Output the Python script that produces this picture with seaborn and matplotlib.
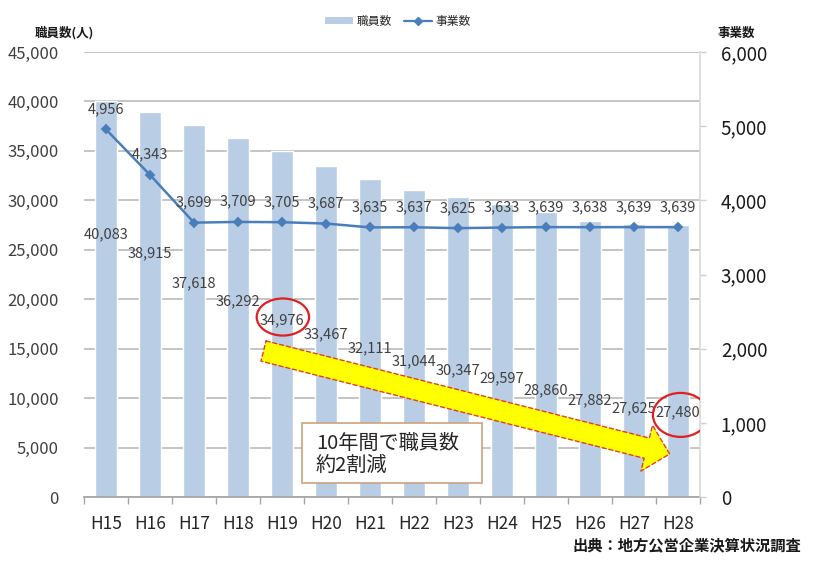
import numpy as np
import pandas as pd
import matplotlib
matplotlib.use("Agg")
import matplotlib.pyplot as plt
import seaborn as sns
from matplotlib.patches import Patch, Ellipse, Rectangle
from matplotlib.lines import Line2D
from matplotlib.ticker import FuncFormatter, FixedLocator

# ---- data ----
years = ["H15", "H16", "H17", "H18", "H19", "H20", "H21",
         "H22", "H23", "H24", "H25", "H26", "H27", "H28"]
employees = [40083, 38915, 37618, 36292, 34976, 33467, 32111,
             31044, 30347, 29597, 28860, 27882, 27625, 27480]
businesses = [4956, 4343, 3699, 3709, 3705, 3687, 3635,
              3637, 3625, 3633, 3639, 3638, 3639, 3639]
emp_label = "職員数"
biz_label = "事業数"
left_title = "職員数(人)"
right_title = "事業数"
note_lines = ["10年間で職員数", "約2割減"]
source = "出典：地方公営企業決算状況調査"

# label placement (left-axis units) for employee value labels
emp_label_y = [26600, 24600, 21600, 19800, 17900, 16500, 15000,
               13700, 12800, 12000, 10800, 9800, 9000, 8600]

# ---- style ----
sns.set_theme(style="white")
plt.rcParams["font.family"] = ["Noto Sans CJK JP", "DejaVu Sans"]
bar_color = "#b9cde5"
line_color = "#4a7ebb"
label_color = "#404040"

W, H = 820, 561
fig = plt.figure(figsize=(W / 100, H / 100), dpi=100)
ax = fig.add_axes([84 / W, 1 - 497 / H, (700 - 84) / W, (497 - 52) / H])
ax2 = ax.twinx()

df = pd.DataFrame({"year": years, "emp": employees, "biz": businesses})

sns.barplot(data=df, x="year", y="emp", ax=ax, color=bar_color,
            saturation=1, width=0.48, zorder=2)
sns.pointplot(data=df, x="year", y="biz", ax=ax2, color=line_color,
              markers="D", markersize=4.5, linewidth=1.8, zorder=3)

n = len(years)
ax.set_xlim(-0.5, n - 0.5)
ax2.set_xlim(-0.5, n - 0.5)
ax.set_ylim(0, 45000)
ax2.set_ylim(0, 6000)
ax.set_yticks(np.arange(0, 45001, 5000))
ax2.set_yticks(np.arange(0, 6001, 1000))
fmt = FuncFormatter(lambda v, p: f"{int(v):,}")
ax.yaxis.set_major_formatter(fmt)
ax2.yaxis.set_major_formatter(fmt)
ax.set_xlabel("")
ax.set_ylabel("")
ax2.set_xlabel("")
ax2.set_ylabel("")

# grid
ax.set_axisbelow(True)
ax.yaxis.grid(True, color="#bfbfbf", linewidth=1.3)
ax.xaxis.grid(False)
ax2.grid(False)

# spines
for s in ["top", "left", "right"]:
    ax.spines[s].set_visible(False)
for s in ["top", "left", "bottom"]:
    ax2.spines[s].set_visible(False)
ax.spines["bottom"].set_color("#a6a6a6")
ax.spines["bottom"].set_linewidth(1.3)
ax2.spines["right"].set_visible(True)
ax2.spines["right"].set_color("#d9d9d9")
ax2.spines["right"].set_linewidth(1.2)

# ticks
ax.tick_params(axis="y", length=0, pad=18, labelsize=12, labelcolor="#404040")
ax2.tick_params(axis="y", length=4, width=1, color="#d0d0d0", pad=11,
                labelsize=13.5, labelcolor="#1a1a1a", right=True)
ax.tick_params(axis="x", which="major", length=0, pad=13, labelsize=12.5,
               labelcolor="#262626")
ax.xaxis.set_minor_locator(FixedLocator(np.arange(-0.5, n, 1.0)))
ax.tick_params(axis="x", which="minor", length=5, width=1, color="#a6a6a6",
               bottom=True)
ax2.tick_params(axis="x", length=0, labelbottom=False)

# data labels
for i, (v, ly) in enumerate(zip(employees, emp_label_y)):
    ax2.text(i, ly, f"{v:,}", transform=ax.transData, ha="center",
             va="center", fontsize=10.5, color=label_color, zorder=6)
for i, v in enumerate(businesses):
    ax2.annotate(f"{v:,}", xy=(i, v), xytext=(0, 14.5),
                 textcoords="offset points", ha="center", va="center",
                 fontsize=10.5, color=label_color, zorder=6)

# big arrow
ax2.annotate("", xy=(12.81, 4350), xycoords=ax.transData,
             xytext=(3.58, 14760), textcoords=ax.transData,
             arrowprops=dict(arrowstyle="simple,head_length=17,head_width=34,tail_width=15",
                             mutation_scale=1, shrinkA=0, shrinkB=0,
                             fc="#ffff00", ec="#e0402a", lw=1.0,
                             linestyle=(0, (3, 2))),
             zorder=7)

# red ellipses
for cx, cy, w, h in [(4.02, 18200, 1.19, 3750), (13.06, 8300, 1.26, 4450)]:
    e = Ellipse((cx, cy), w, h, transform=ax.transData, fill=False,
                edgecolor="#e02020", linewidth=1.6, zorder=8)
    ax2.add_patch(e)

# note box
rect = Rectangle((4.45, 1420), 4.09, 6060, transform=ax.transData,
                 facecolor="white", edgecolor="#c9a27f", linewidth=1.2,
                 zorder=9)
ax2.add_patch(rect)
ax2.text(4.77, 5460, note_lines[0], transform=ax.transData, ha="left",
         va="center", fontsize=14.5, color="#262626", zorder=10)
ax2.text(4.77, 3240, note_lines[1], transform=ax.transData, ha="left",
         va="center", fontsize=14.5, color="#262626", zorder=10)

# titles
fig.text(35 / W, 1 - 33 / H, left_title, ha="left", va="center",
         fontsize=9, fontweight="bold", color="#1a1a1a")
fig.text(718 / W, 1 - 33 / H, right_title, ha="left", va="center",
         fontsize=9, fontweight="bold", color="#1a1a1a")

# legend
handles = [Patch(facecolor=bar_color, edgecolor="none"),
           Line2D([], [], color=line_color, marker="D", markersize=4, lw=1.6)]
fig.legend(handles=handles, labels=[emp_label, biz_label], ncol=2,
           frameon=False, loc="center", bbox_to_anchor=(398 / W, 1 - 21 / H),
           fontsize=8.5, handlelength=2.4, handleheight=0.5,
           columnspacing=1.0, handletextpad=0.3)

# source
fig.text(572 / W, 1 - 545 / H, source, ha="left", va="center",
         fontsize=11, fontweight="bold", color="#1a1a1a")

fig.savefig("out.png", dpi=100)
